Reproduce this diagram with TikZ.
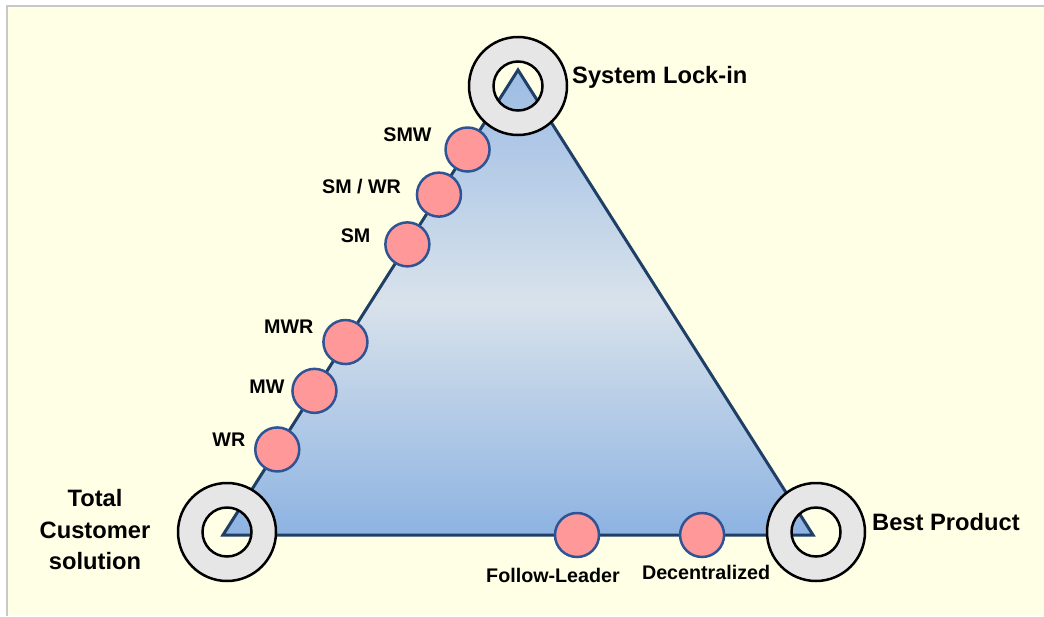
\documentclass[tikz,border=0pt]{standalone}
\usepackage{fontspec}
\setmainfont{Liberation Sans}
\usetikzlibrary{positioning}

\definecolor{paper}{HTML}{FFFFE6}
\definecolor{framegray}{HTML}{C8C8C8}
\definecolor{navy}{HTML}{1F3F66}
\definecolor{ringgray}{HTML}{E6E6E6}
\definecolor{dotpink}{HTML}{FF9999}
\definecolor{dotblue}{HTML}{2F5496}
\definecolor{tritop}{HTML}{9CBCE4}
\definecolor{trimid}{HTML}{D8E2EB}
\definecolor{tribot}{HTML}{8DB3E2}

\tikzset{
	dot/.style={circle, draw=dotblue, line width=2.5pt, fill=dotpink, minimum size=44pt, inner sep=0pt, outer sep=0pt},
	ring/.style={draw=black, line width=2.5pt, fill=ringgray, even odd rule},
	lbl/.style={font=\fontsize{19.7}{22}\selectfont\bfseries, inner sep=0pt, outer sep=0pt, text depth=0pt},
	big/.style={font=\fontsize{23.7}{31.5}\selectfont\bfseries, inner sep=0pt}
}

\begin{document}
\begin{tikzpicture}[x=1pt, y=-1pt]
		\useasboundingbox (0,0) rectangle (1044,616);
		\fill[white] (0,0) rectangle (1044,616);
		\fill[paper] (7,6) rectangle (1044,616);
		\draw[framegray, line width=2pt] (7,616) -- (7,6) -- (1044,6);

		% triangle corners
		\coordinate (apex) at (518,70);
		\coordinate (tcs) at (223,535);
		\coordinate (bp) at (813,535);
		\draw[navy, line width=3pt, top color=tritop, bottom color=tribot, middle color=trimid] (apex) -- (bp) -- (tcs) -- cycle;

		% rings
		\coordinate (ringtop) at (518,86);
		\coordinate (ringtcs) at (227,532);
		\coordinate (ringbp) at (816,532);
		\foreach \c in {ringtop, ringtcs, ringbp}
			\path[ring] (\c) circle[radius=49pt] (\c) circle[radius=24.5pt];

		% positions
		\path (tcs) -- (apex)
			node[dot, pos=0.184] (wr) {}
			node[dot, pos=0.310] (mw) {}
			node[dot, pos=0.415] (mwr) {}
			node[dot, pos=0.625] (sm) {}
			node[dot, pos=0.732] (smwr) {}
			node[dot, pos=0.829] (smw) {};
		\path (tcs) -- (bp)
			node[dot, pos=0.600] (follow) {}
			node[dot, pos=0.812] (decent) {};

		\node[lbl, left=14pt of smw, yshift=14.5pt] (lsmw) {SMW};
		\node[lbl, left=16pt of smwr, yshift=8.5pt] (lsmwr) {SM / WR};
		\node[lbl, left=15pt of sm, yshift=8.5pt] (lsm) {SM};
		\node[lbl, left=10pt of mwr, yshift=15pt] (lmwr) {MWR};
		\node[lbl, left=8pt of mw, yshift=4pt] (lmw) {MW};
		\node[lbl, left=10pt of wr, yshift=9.5pt] (lwr) {WR};
		\node[lbl, below=11.5pt of follow, xshift=-24pt] (lfollow) {Follow-Leader};
		\node[lbl, below=8.5pt of decent, xshift=4pt] (ldecent) {Decentralized};

		% corner labels
		\node[big, anchor=west, text depth=0pt] (lockin) at (572,75) {System Lock-in};
		\node[big, anchor=west, text depth=0pt] (bestprod) at (872,522) {Best Product};
		\node[big, align=center] (totalcs) at (95,530) {Total\\Customer\\solution};
	\end{tikzpicture}
\end{document}
